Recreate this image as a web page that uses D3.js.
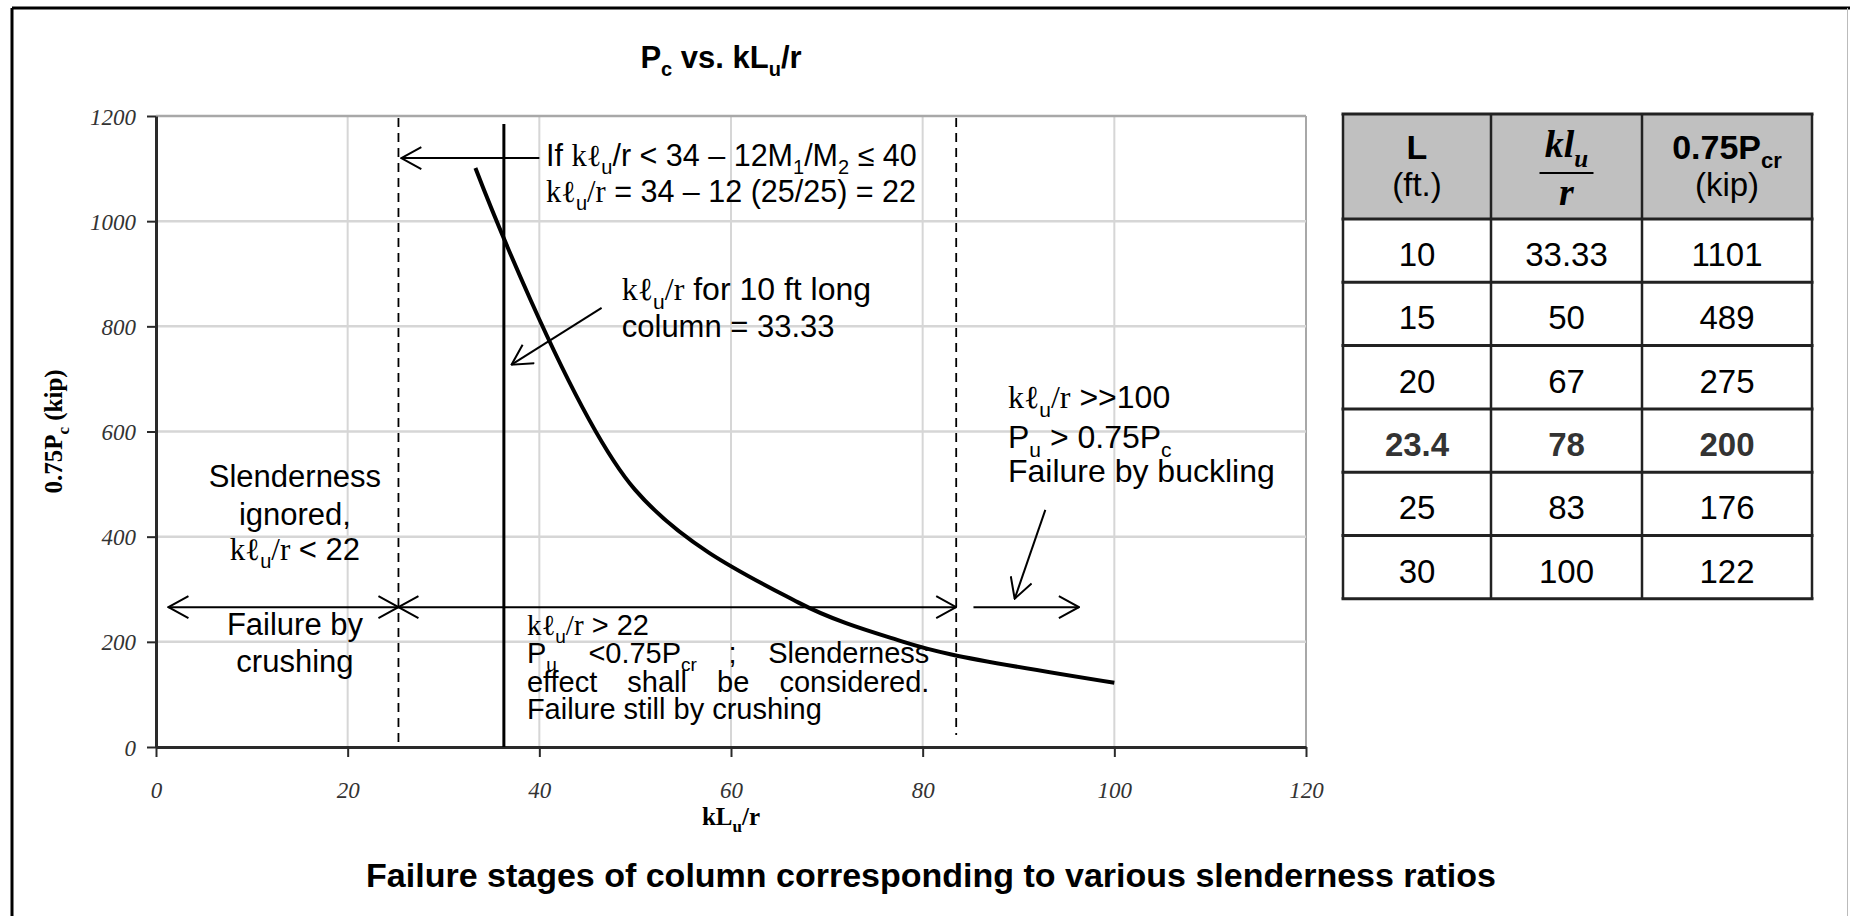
<!DOCTYPE html>
<html>
<head>
<meta charset="utf-8">
<script src="https://cdn.jsdelivr.net/npm/d3@7"></script>
<style>
body { margin: 0; background: #fff; }
svg { display: block; }
</style>
</head>
<body>
<svg id="chart" width="1850" height="916"></svg>
<script>
// column lengths and the table / curve values
var lengthFt = ["10", "15", "20", "23.4", "25", "30"];
var slenderness = [33.33, 50, 67, 78, 83, 100];
var slenderLabels = ["33.33", "50", "67", "78", "83", "100"];
var loadKip = [1101, 489, 275, 200, 176, 122];
var boldRow = 3;

var xTicks = [0, 20, 40, 60, 80, 100, 120];
var yTicks = [0, 200, 400, 600, 800, 1000, 1200];

// reference lines (kl/r)
var dashedAt = [25.3, 83.5];
var columnAt = 36.3;
var arrowLevel = 266;

var SANS = "'Liberation Sans', Arial, Helvetica, sans-serif";
var SERIF = "'Liberation Serif', 'Times New Roman', serif";

var svg = d3.select('#chart');
var x = d3.scaleLinear().domain([0, 120]).range([156, 1306]);
var y = d3.scaleLinear().domain([0, 1200]).range([747, 116]);

// frame
svg.append('line').attr('x1', 12).attr('x2', 1850).attr('y1', 8).attr('y2', 8).attr('stroke', '#000').attr('stroke-width', 3);
svg.append('line').attr('x1', 12).attr('x2', 12).attr('y1', 8).attr('y2', 916).attr('stroke', '#000').attr('stroke-width', 3);
svg.append('line').attr('x1', 1847.5).attr('x2', 1847.5).attr('y1', 8).attr('y2', 916).attr('stroke', '#bbb').attr('stroke-width', 1);

var defs = svg.append('defs');
defs.append('marker').attr('id', 'head').attr('viewBox', '0 0 22 24')
  .attr('refX', 21).attr('refY', 12).attr('markerWidth', 22).attr('markerHeight', 24)
  .attr('markerUnits', 'userSpaceOnUse').attr('orient', 'auto-start-reverse')
  .append('path').attr('d', 'M1,1 L21,12 L1,23').attr('fill', 'none').attr('stroke', '#000').attr('stroke-width', 2);

// grid
var grid = svg.append('g');
grid.selectAll('.gx').data(xTicks.slice(1)).enter().append('line')
  .attr('x1', function(d) { return x(d); }).attr('x2', function(d) { return x(d); })
  .attr('y1', y(1200)).attr('y2', y(0))
  .attr('stroke', function(d) { return d === 120 ? '#a8a8a8' : '#d6d6d6'; }).attr('stroke-width', 2);
grid.selectAll('.gy').data(yTicks.slice(1)).enter().append('line')
  .attr('x1', x(0)).attr('x2', x(120))
  .attr('y1', function(d) { return y(d); }).attr('y2', function(d) { return y(d); })
  .attr('stroke', function(d) { return d === 1200 ? '#a8a8a8' : '#d6d6d6'; }).attr('stroke-width', 2.5);

// axes
var xAxis = svg.append('g').attr('transform', 'translate(0,' + y(0) + ')')
  .call(d3.axisBottom(x).tickValues(xTicks).tickFormat(d3.format('d')).tickSize(10).tickSizeOuter(0));
xAxis.selectAll('text').attr('y', 51).attr('dy', 0);
var yAxis = svg.append('g').attr('transform', 'translate(' + x(0) + ',0)')
  .call(d3.axisLeft(y).tickValues(yTicks).tickFormat(d3.format('d')).tickSize(9).tickPadding(11).tickSizeOuter(0));
yAxis.selectAll('text').attr('dy', '0.35em');
[xAxis, yAxis].forEach(function(a) {
  a.select('.domain').attr('stroke', '#2a2a2a').attr('stroke-width', 3);
  a.selectAll('.tick line').attr('stroke', '#2a2a2a').attr('stroke-width', 2);
  a.selectAll('text').style('font-family', SERIF).style('font-style', 'italic')
    .style('font-size', '23px').attr('fill', '#333');
});

// helper for mixed text with subscripts
function rich(parent, px, py, parts, size, anchor, weight) {
  var t = parent.append('text').attr('x', px).attr('y', py)
    .style('font-family', SANS).style('font-size', size + 'px')
    .attr('text-anchor', anchor || 'start').attr('fill', '#000');
  if (weight) t.style('font-weight', weight);
  var shift = 0;
  parts.forEach(function(p) {
    var kind = p[1] || '';
    var isSub = kind.indexOf('sub') >= 0;
    var off = isSub ? Math.round(size * 0.27) : 0;
    var ts = t.append('tspan').text(p[0]).attr('dy', off - shift);
    shift = off;
    if (isSub) ts.style('font-size', Math.round(size * 0.66) + 'px');
    if (kind.indexOf('serif') >= 0) ts.style('font-family', SERIF);
    if (kind.indexOf('ital') >= 0) ts.style('font-style', 'italic');
  });
  return t;
}

function justified(parent, x0, x1, py, words, size) {
  var els = words.map(function(w) { return rich(parent, x0, py, w, size); });
  var w = els.map(function(e) { return e.node().getComputedTextLength(); });
  var gap = (x1 - x0 - d3.sum(w)) / (els.length - 1);
  var cx = x0;
  els.forEach(function(e, i) { e.attr('x', cx); cx += w[i] + gap; });
}

var kl = [['k\u2113', 'serif'], ['u', 'sub'], ['/r', 'serif']];

// reference lines
svg.selectAll('.dash').data(dashedAt).enter().append('line')
  .attr('x1', function(d) { return x(d); }).attr('x2', function(d) { return x(d); })
  .attr('y1', y(1196)).attr('y2', function(d, i) { return i ? y(23) : y(9); })
  .attr('stroke', '#000').attr('stroke-width', 1.8).attr('stroke-dasharray', '9,6');
svg.append('line').attr('x1', x(columnAt)).attr('x2', x(columnAt))
  .attr('y1', y(1185)).attr('y2', y(0)).attr('stroke', '#000').attr('stroke-width', 3);

// curve
var line = d3.line().x(function(d) { return x(d[0]); }).y(function(d) { return y(d[1]); })
  .curve(d3.curveCatmullRom.alpha(0.5));
svg.append('path').datum(d3.zip(slenderness, loadKip)).attr('d', line)
  .attr('fill', 'none').attr('stroke', '#000').attr('stroke-width', 4);

// arrows [from, to, both ends]
var arrows = [
  [[40.0, 1120], [25.6, 1120], false],
  [[46.5, 835], [37.1, 727], false],
  [[25.3, arrowLevel], [1.3, arrowLevel], true],
  [[25.3, arrowLevel], [83.5, arrowLevel], true],
  [[85.3, arrowLevel], [96.3, arrowLevel], false],
  [[92.8, 451], [89.6, 282], false]
];
arrows.forEach(function(a) {
  var l = svg.append('line').attr('x1', x(a[0][0])).attr('y1', y(a[0][1]))
    .attr('x2', x(a[1][0])).attr('y2', y(a[1][1]))
    .attr('stroke', '#000').attr('stroke-width', 2).attr('marker-end', 'url(#head)');
  if (a[2]) l.attr('marker-start', 'url(#head)');
});

// annotations
var fs = 31;
var ann = svg.append('g');
rich(ann, x(40.7), y(1105), [['If '], ['k\u2113', 'serif'], ['u', 'sub'], ['/r < 34 \u2013 12M'], ['1', 'sub'], ['/M'], ['2', 'sub'], [' \u2264 40']], 30.5);
rich(ann, x(40.7), y(1036), kl.concat([[' = 34 \u2013 12 (25/25) = 22']]), 30.5);
rich(ann, x(48.6), y(850), kl.concat([[' for 10 ft long']]), 32);
rich(ann, x(48.6), y(780), [['column = 33.33']], fs);

rich(ann, x(14.5), y(494), [['Slenderness']], fs, 'middle');
rich(ann, x(14.5), y(422), [['ignored,']], fs, 'middle');
rich(ann, x(14.5), y(356), kl.concat([[' < 22']]), fs, 'middle');
rich(ann, x(14.5), y(213), [['Failure by']], fs, 'middle');
rich(ann, x(14.5), y(143), [['crushing']], fs, 'middle');

rich(ann, x(38.7), y(213), kl.concat([[' > 22']]), 29);
justified(ann, x(38.7), x(80.7), y(160),
  [[['P'], ['u', 'sub']], [['<0.75P'], ['cr', 'sub']], [[';']], [['Slenderness']]], 29);
justified(ann, x(38.7), x(80.7), y(105),
  [[['effect']], [['shall']], [['be']], [['considered.']]], 29);
rich(ann, x(38.7), y(53), [['Failure still by crushing']], 29);

rich(ann, x(88.9), y(645), kl.concat([[' >>100']]), 32);
rich(ann, x(88.9), y(569), [['P'], ['u', 'sub'], [' > 0.75P'], ['c', 'sub']], 32);
rich(ann, x(88.9), y(504), [['Failure by buckling']], 32);

// titles
rich(svg, 721, 68, [['P'], ['c', 'sub'], [' vs. kL'], ['u', 'sub'], ['/r']], 31, 'middle', 'bold');
rich(svg, x(60), 825, [['kL', 'serif'], ['u', 'serif sub'], ['/r', 'serif']], 25, 'middle', 'bold');
var yl = rich(svg, 0, 0, [['0.75P', 'serif'], ['c', 'serif sub'], [' (kip)', 'serif']], 25, 'middle', 'bold');
yl.attr('transform', 'translate(62,' + y(600) + ') rotate(-90)');
rich(svg, 931, 887, [['Failure stages of column corresponding to various slenderness ratios']], 34, 'middle', 'bold');

// table
var colX = [1343, 1491, 1642, 1812];
var headTop = 114, headBottom = 219, rowH = 63.3;
var tbl = svg.append('g');
tbl.append('rect').attr('x', colX[0]).attr('y', headTop).attr('width', colX[3] - colX[0])
  .attr('height', headBottom - headTop).attr('fill', '#c0c0c0');
var rowY = lengthFt.map(function(d, i) { return headBottom + i * rowH; });
var tableBottom = headBottom + lengthFt.length * rowH;
[headTop].concat(rowY, [tableBottom]).forEach(function(yy) {
  tbl.append('line').attr('x1', colX[0] - 1.5).attr('x2', colX[3] + 1.5).attr('y1', yy).attr('y2', yy)
    .attr('stroke', '#222').attr('stroke-width', 3);
});
colX.forEach(function(xx) {
  tbl.append('line').attr('x1', xx).attr('x2', xx).attr('y1', headTop).attr('y2', tableBottom)
    .attr('stroke', '#222').attr('stroke-width', 2.5);
});
var mid = [0, 1, 2].map(function(i) { return (colX[i] + colX[i + 1]) / 2; });
rich(tbl, mid[0], 159, [['L']], 34, 'middle', 'bold');
rich(tbl, mid[0], 196, [['(ft.)']], 33, 'middle');
rich(tbl, mid[1], 157, [['kl', 'serif ital'], ['u', 'serif ital sub']], 38, 'middle', 'bold');
tbl.append('line').attr('x1', mid[1] - 27).attr('x2', mid[1] + 27).attr('y1', 173).attr('y2', 173)
  .attr('stroke', '#000').attr('stroke-width', 2);
rich(tbl, mid[1], 205, [['r', 'serif ital']], 38, 'middle', 'bold');
rich(tbl, mid[2], 159, [['0.75P'], ['cr', 'sub']], 34, 'middle', 'bold');
rich(tbl, mid[2], 196, [['(kip)']], 33, 'middle');

var cols = [lengthFt, slenderLabels, loadKip];
cols.forEach(function(col, c) {
  col.forEach(function(v, i) {
    var t = rich(tbl, mid[c], rowY[i] + 47, [[String(v)]], 33, 'middle', i === boldRow ? 'bold' : null);
    if (i === boldRow) t.attr('fill', '#333');
  });
});
</script>
</body>
</html>
